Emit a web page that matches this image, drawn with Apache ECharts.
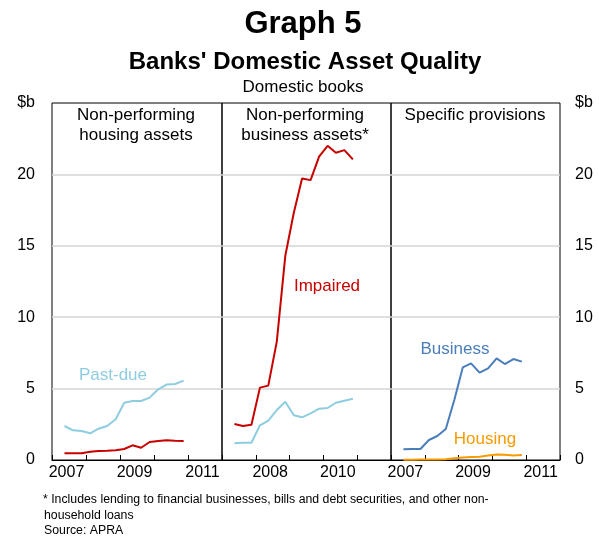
<!DOCTYPE html>
<html>
<head>
<meta charset="utf-8">
<script src="https://cdn.jsdelivr.net/npm/echarts@6/dist/echarts.min.js"></script>
<style>
html,body{margin:0;padding:0;background:#fff;}
#chart{width:599px;height:541px;}
</style>
</head>
<body>
<div id="chart"></div>
<script>
// Quarterly observations (plotted at mid-quarter)
const quarters = ['2007-Q2','2007-Q3','2007-Q4','2008-Q1','2008-Q2','2008-Q3','2008-Q4',
  '2009-Q1','2009-Q2','2009-Q3','2009-Q4','2010-Q1','2010-Q2','2010-Q3','2010-Q4'];
const years = ['2007','2008','2009','2010','2011'];
const yTicks = [0, 5, 10, 15, 20, 25];

// Panel 1: Non-performing housing assets ($b)
const pastDueHousing  = [2.38, 2.08, 2.03, 1.87, 2.19, 2.38, 2.85, 4.01, 4.13, 4.13, 4.37, 4.95, 5.28, 5.32, 5.56];
const impairedHousing = [0.47, 0.47, 0.47, 0.58, 0.63, 0.65, 0.68, 0.77, 1.03, 0.86, 1.26, 1.33, 1.38, 1.35, 1.33];
// Panel 2: Non-performing business assets ($b)
const pastDueBusiness  = [1.17, 1.21, 1.21, 2.43, 2.75, 3.50, 4.08, 3.13, 2.99, 3.27, 3.59, 3.64, 4.01, 4.15, 4.29];
const impairedBusiness = [2.52, 2.38, 2.47, 5.07, 5.21, 8.29, 14.3, 17.32, 19.72, 19.6, 21.24, 22.0, 21.52, 21.7, 21.05];
// Panel 3: Specific provisions ($b)
const provBusiness = [0.75, 0.77, 0.77, 1.40, 1.68, 2.17, 4.20, 6.49, 6.77, 6.12, 6.42, 7.12, 6.72, 7.07, 6.89];
const provHousing  = [0.02, 0.02, 0.03, 0.03, 0.04, 0.06, 0.12, 0.18, 0.21, 0.23, 0.32, 0.38, 0.36, 0.31, 0.35];

const C_RED = '#C80000', C_LBLUE = '#8ECDE0', C_BLUE = '#4A7EBB', C_ORANGE = '#F79B00';
const FONT = 'Liberation Sans, Arial, sans-serif';

function qTime(q) {
  const parts = q.split('-Q');
  return Date.UTC(+parts[0], (+parts[1] - 1) * 3 + 1, 15);
}
function pairs(vals) { return quarters.map((q, i) => [qTime(q), vals[i]]); }

const chart = echarts.init(document.getElementById('chart'), null, {renderer: 'canvas'});

const grids = [
  {left: 52, top: 103, width: 170, height: 357},
  {left: 222, top: 103, width: 169, height: 357},
  {left: 391, top: 103, width: 169, height: 357}
].map(g => Object.assign(g, {show: true, borderColor: '#000', borderWidth: 1, containLabel: false}));

const labelSets = [[0, 2, 4], [1, 3], [0, 2, 4]];

const xAxes = [];
for (let i = 0; i < 3; i++) {
  xAxes.push({
    type: 'time', gridIndex: i, show: false,
    min: Date.UTC(2007, 0, 1), max: Date.UTC(2012, 0, 1)
  });
}
for (let i = 0; i < 3; i++) {
  xAxes.push({
    type: 'category', gridIndex: i, data: years, position: 'bottom', boundaryGap: true,
    axisLine: {show: true, lineStyle: {color: '#000', width: 1}},
    axisTick: {show: true, inside: true, length: 5, interval: 0, lineStyle: {color: '#000'}},
    axisLabel: {
      interval: 0, margin: 5, fontSize: 16, color: '#000', fontFamily: FONT,
      padding: [0, 5, 0, 0],
      formatter: (v, idx) => labelSets[i].indexOf(idx) >= 0 ? v : ''
    },
    splitLine: {show: false}
  });
}

const yAxes = [0, 1, 2].map(i => ({
  type: 'value', gridIndex: i, min: yTicks[0], max: yTicks[yTicks.length - 1], interval: 5,
  position: i === 2 ? 'right' : 'left',
  axisLine: {show: false}, axisTick: {show: false},
  axisLabel: {
    show: i !== 1, fontSize: 16, color: '#000', fontFamily: FONT,
    margin: i === 2 ? 15 : 17,
    formatter: v => v === 25 ? '$b' : String(v)
  },
  splitLine: {show: true, showMinLine: false, showMaxLine: false, lineStyle: {color: '#D4D4D4', width: 1.5}}
}));

function line(name, vals, gi, color) {
  return {
    name, type: 'line', xAxisIndex: gi, yAxisIndex: gi, data: pairs(vals),
    symbol: 'none', smooth: false, lineStyle: {color, width: 2}, itemStyle: {color},
    z: 3, animation: false
  };
}

function txt(text, x, y, font, color, align) {
  return {
    type: 'text', x, y, silent: true,
    style: {text, font, fill: color || '#000', textAlign: align || 'center', textVerticalAlign: 'middle'}
  };
}

const F17 = '17px ' + FONT;
const FOOT = '12.3px ' + FONT;

chart.setOption({
  animation: false,
  backgroundColor: '#fff',
  grid: grids,
  xAxis: xAxes,
  yAxis: yAxes,
  series: [
    line('Impaired housing', impairedHousing, 0, C_RED),
    line('Past-due housing', pastDueHousing, 0, C_LBLUE),
    line('Past-due business', pastDueBusiness, 1, C_LBLUE),
    line('Impaired business', impairedBusiness, 1, C_RED),
    line('Housing provisions', provHousing, 2, C_ORANGE),
    line('Business provisions', provBusiness, 2, C_BLUE)
  ],
  graphic: [
    txt('Graph 5', 303, 24, 'bold 31px ' + FONT),
    txt("Banks' Domestic Asset Quality", 305, 62, 'bold 24px ' + FONT),
    txt('Domestic books', 303, 87, '17px ' + FONT),
    txt('Non-performing', 136, 115, F17),
    txt('housing assets', 136, 135, F17),
    txt('Non-performing', 305, 115, F17),
    txt('business assets*', 305, 135, F17),
    txt('Specific provisions', 475, 115, F17),
    txt('Past-due', 113, 375, F17, C_LBLUE),
    txt('Impaired', 327, 286, F17, C_RED),
    txt('Business', 455, 349, F17, C_BLUE),
    txt('Housing', 485, 439, F17, C_ORANGE),
    txt('* Includes lending to financial businesses, bills and debt securities, and other non-', 43, 500, FOOT, '#000', 'left'),
    txt('household loans', 44, 515.5, FOOT, '#000', 'left'),
    txt('Source: APRA', 44, 531, FOOT, '#000', 'left')
  ]
});
</script>
</body>
</html>
